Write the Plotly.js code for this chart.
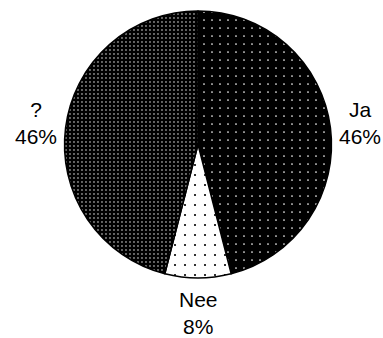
<!DOCTYPE html>
<html>
<head>
<meta charset="utf-8">
<script src="https://cdn.plot.ly/plotly-3.0.1.min.js"></script>
<style>
  html, body { margin: 0; padding: 0; background: #ffffff; }
  #chart { width: 383px; height: 338px; }
</style>
</head>
<body>
<div id="chart"></div>
<script>
// Answer categories and their share of responses (%)
const labels = ['Ja', 'Nee', '?'];
const values = [46, 8, 46];

// Dot fills per slice: background, dot colour, tile size, dot solidity
const bgColors = ['#000000', '#ffffff', '#000000'];
const fgColors = ['#ffffff', '#000000', '#ffffff'];
const dotSizes = [8, 10, 4];
const dotSolidity = [0.035, 0.035, 0.1];

// Figure and pie geometry (pixels)
const W = 383, H = 338;
const CX = 198, CY = 144.5, R = 133.5;
// Label ring, relative to the pie radius (horizontal / vertical)
const LABEL_RX = 1.22, LABEL_RY = 1.26;

const trace = {
  type: 'pie',
  labels: labels,
  values: values,
  sort: false,
  direction: 'clockwise',
  rotation: 0,
  domain: {
    x: [(CX - R) / W, (CX + R) / W],
    y: [1 - (CY + R) / H, 1 - (CY - R) / H]
  },
  textinfo: 'none',
  marker: {
    colors: bgColors,
    line: { color: '#000000', width: 1.5 },
    pattern: {
      shape: '.',
      fillmode: 'replace',
      bgcolor: bgColors,
      fgcolor: fgColors,
      size: dotSizes,
      solidity: dotSolidity
    }
  },
  hoverinfo: 'none',
  showlegend: false
};

// Category + percentage labels, centred on the mid-angle of each slice
const total = values.reduce((a, b) => a + b, 0);
let cum = 0;
const annotations = values.map((v, i) => {
  const mid = (cum + v / 2) / total * 2 * Math.PI; // clockwise from 12 o'clock
  cum += v;
  const px = CX + LABEL_RX * R * Math.sin(mid);
  const py = CY - LABEL_RY * R * Math.cos(mid);
  return {
    xref: 'paper', yref: 'paper',
    x: px / W, y: 1 - py / H,
    xanchor: 'center', yanchor: 'middle',
    showarrow: false,
    align: 'center',
    text: labels[i] + '<br>' + Math.round(v / total * 100) + '%',
    font: { family: 'Liberation Sans, Arial, sans-serif', size: 21, color: '#000000' }
  };
});

const layout = {
  width: W,
  height: H,
  margin: { l: 0, r: 0, t: 0, b: 0 },
  paper_bgcolor: '#ffffff',
  plot_bgcolor: '#ffffff',
  showlegend: false,
  annotations: annotations
};

Plotly.newPlot('chart', [trace], layout, { staticPlot: true, displayModeBar: false });
</script>
</body>
</html>
